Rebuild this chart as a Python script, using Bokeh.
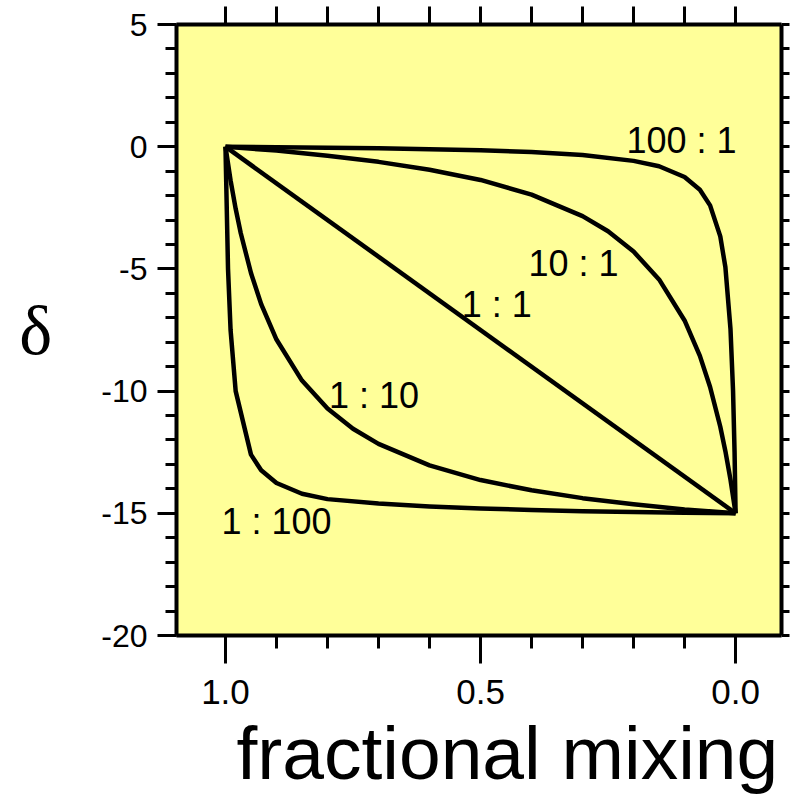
from bokeh.plotting import figure
from bokeh.models import LinearAxis, FixedTicker, Range1d, ColumnDataSource
from bokeh.embed import file_html
from bokeh.resources import INLINE
from bokeh.core.properties import value

# ---------------- data ----------------
# fraction of end-member A (x) and delta value (y) for each mixing ratio
f_100_1 = [1.0, 0.9, 0.8, 0.7, 0.6, 0.5, 0.4, 0.3, 0.2, 0.15, 0.1, 0.07, 0.05, 0.03, 0.02, 0.01, 0.005, 0.002, 0.0]
d_100_1 = [0.0, -0.02, -0.04, -0.06, -0.10, -0.15, -0.22, -0.34, -0.58, -0.80, -1.24, -1.76, -2.40, -3.67, -4.93, -7.46, -9.98, -12.50, -15.0]

f_10_1 = [1.0, 0.9, 0.8, 0.7, 0.6, 0.5, 0.4, 0.3, 0.25, 0.2, 0.15, 0.1, 0.07, 0.05, 0.03, 0.02, 0.01, 0.0]
d_10_1 = [0.0, -0.16, -0.37, -0.62, -0.94, -1.36, -1.96, -2.84, -3.46, -4.29, -5.43, -7.11, -8.56, -9.83, -11.46, -12.46, -13.62, -15.0]

f_1_1 = [1.0, 0.0]
d_1_1 = [0.0, -15.0]

f_1_10 = [1.0, 0.99, 0.98, 0.97, 0.95, 0.93, 0.9, 0.85, 0.8, 0.75, 0.7, 0.6, 0.5, 0.4, 0.3, 0.2, 0.1, 0.0]
d_1_10 = [0.0, -1.38, -2.54, -3.54, -5.17, -6.44, -7.89, -9.57, -10.71, -11.54, -12.16, -13.04, -13.64, -14.06, -14.38, -14.63, -14.84, -15.0]

f_1_100 = [1.0, 0.995, 0.99, 0.98, 0.95, 0.93, 0.9, 0.85, 0.8, 0.7, 0.6, 0.5, 0.4, 0.3, 0.2, 0.1, 0.0]
d_1_100 = [0.0, -5.0, -7.5, -10.0, -12.6, -13.24, -13.76, -14.2, -14.42, -14.6, -14.72, -14.8, -14.86, -14.92, -14.95, -14.98, -15.0]

curve_labels = ["100 : 1", "10 : 1", "1 : 1", "1 : 10", "1 : 100"]
curve_label_f = [0.214, 0.406, 0.537, 0.797, 1.008]
curve_label_d = [0.25, -4.79, -6.46, -10.17, -15.35]

x_major_ticks = [0.0, 0.5, 1.0]
x_minor_ticks = [0.1, 0.2, 0.3, 0.4, 0.6, 0.7, 0.8, 0.9]
x_top_ticks = [0.0, 0.1, 0.2, 0.3, 0.4, 0.5, 0.6, 0.7, 0.8, 0.9, 1.0]
x_tick_labels = {0.0: "0.0", 0.5: "0.5", 1.0: "1.0"}
y_major_ticks = [5, 0, -5, -10, -15, -20]
y_tick_labels = {5: "5", 0: "0", -5: "-5", -10: "-10", -15: "-15", -20: "-20"}
y_minor_ticks = list(range(-20, 6))

x_title = "fractional mixing"
y_title = "δ"

# ---------------- figure ----------------
FONT = "Liberation Sans"

p = figure(frame_width=605, frame_height=611,
           x_range=Range1d(1.096, -0.09), y_range=Range1d(-20, 5),
           output_backend="svg", toolbar_location=None,
           min_border_left=176, min_border_top=24,
           min_border_right=9, min_border_bottom=163)
p.background_fill_color = "#FFFF99"
p.border_fill_color = "white"
p.outline_line_color = None
p.xgrid.visible = False
p.ygrid.visible = False


def style_axis(ax):
    ax.axis_line_color = "black"
    ax.axis_line_width = 4
    ax.major_tick_line_color = "black"
    ax.minor_tick_line_color = "black"
    ax.major_tick_line_width = 3
    ax.minor_tick_line_width = 3
    ax.major_tick_in = 0
    ax.minor_tick_in = 0
    ax.major_label_text_font = FONT
    ax.major_label_text_font_size = "32px"
    ax.major_label_text_color = "black"


xb = p.xaxis[0]
style_axis(xb)
xb.ticker = FixedTicker(ticks=x_major_ticks, minor_ticks=x_minor_ticks)
xb.major_label_overrides = x_tick_labels
xb.major_label_text_font_size = "35px"
xb.major_tick_out = 28
xb.minor_tick_out = 13
xb.major_label_standoff = 16
xb.axis_label = "\u00a0\u00a0\u2009" + x_title
xb.axis_label_text_font = FONT
xb.axis_label_text_font_style = "normal"
xb.axis_label_text_font_size = "75px"
xb.axis_label_text_color = "black"
xb.axis_label_standoff = 4

yl = p.yaxis[0]
style_axis(yl)
yl.ticker = FixedTicker(ticks=y_major_ticks, minor_ticks=y_minor_ticks)
yl.major_label_overrides = y_tick_labels
yl.major_tick_out = 19
yl.minor_tick_out = 11
yl.major_label_standoff = 10
yl.axis_label = y_title
yl.axis_label_orientation = "horizontal"
yl.axis_label_text_font = "Liberation Serif"
yl.axis_label_text_font_style = "normal"
yl.axis_label_text_font_size = "70px"
yl.axis_label_text_color = "black"
yl.axis_label_standoff = 46

xt = LinearAxis(ticker=FixedTicker(ticks=x_top_ticks))
style_axis(xt)
xt.major_tick_out = 18
xt.minor_tick_out = 0
xt.major_label_overrides = {t: "" for t in x_top_ticks}
xt.major_label_text_font_size = "1px"
xt.major_label_standoff = 0
p.add_layout(xt, "above")

yr = LinearAxis(ticker=FixedTicker(ticks=y_minor_ticks))
style_axis(yr)
yr.major_tick_out = 8
yr.minor_tick_out = 0
yr.major_label_overrides = {t: "" for t in y_minor_ticks}
yr.major_label_text_font_size = "1px"
yr.major_label_standoff = 0
p.add_layout(yr, "right")

# ---------------- curves ----------------
for fx, dy in [(f_100_1, d_100_1), (f_10_1, d_10_1), (f_1_1, d_1_1),
               (f_1_10, d_1_10), (f_1_100, d_1_100)]:
    p.line(fx, dy, line_color="black", line_width=4.5, line_join="round")

src = ColumnDataSource(dict(x=curve_label_f, y=curve_label_d, t=curve_labels))
p.text(x="x", y="y", text="t", source=src, text_font=value(FONT),
       text_font_size=value("36px"), text_color="black",
       text_align="left", text_baseline="alphabetic")

open("out.html", "w").write(file_html(p, INLINE))
